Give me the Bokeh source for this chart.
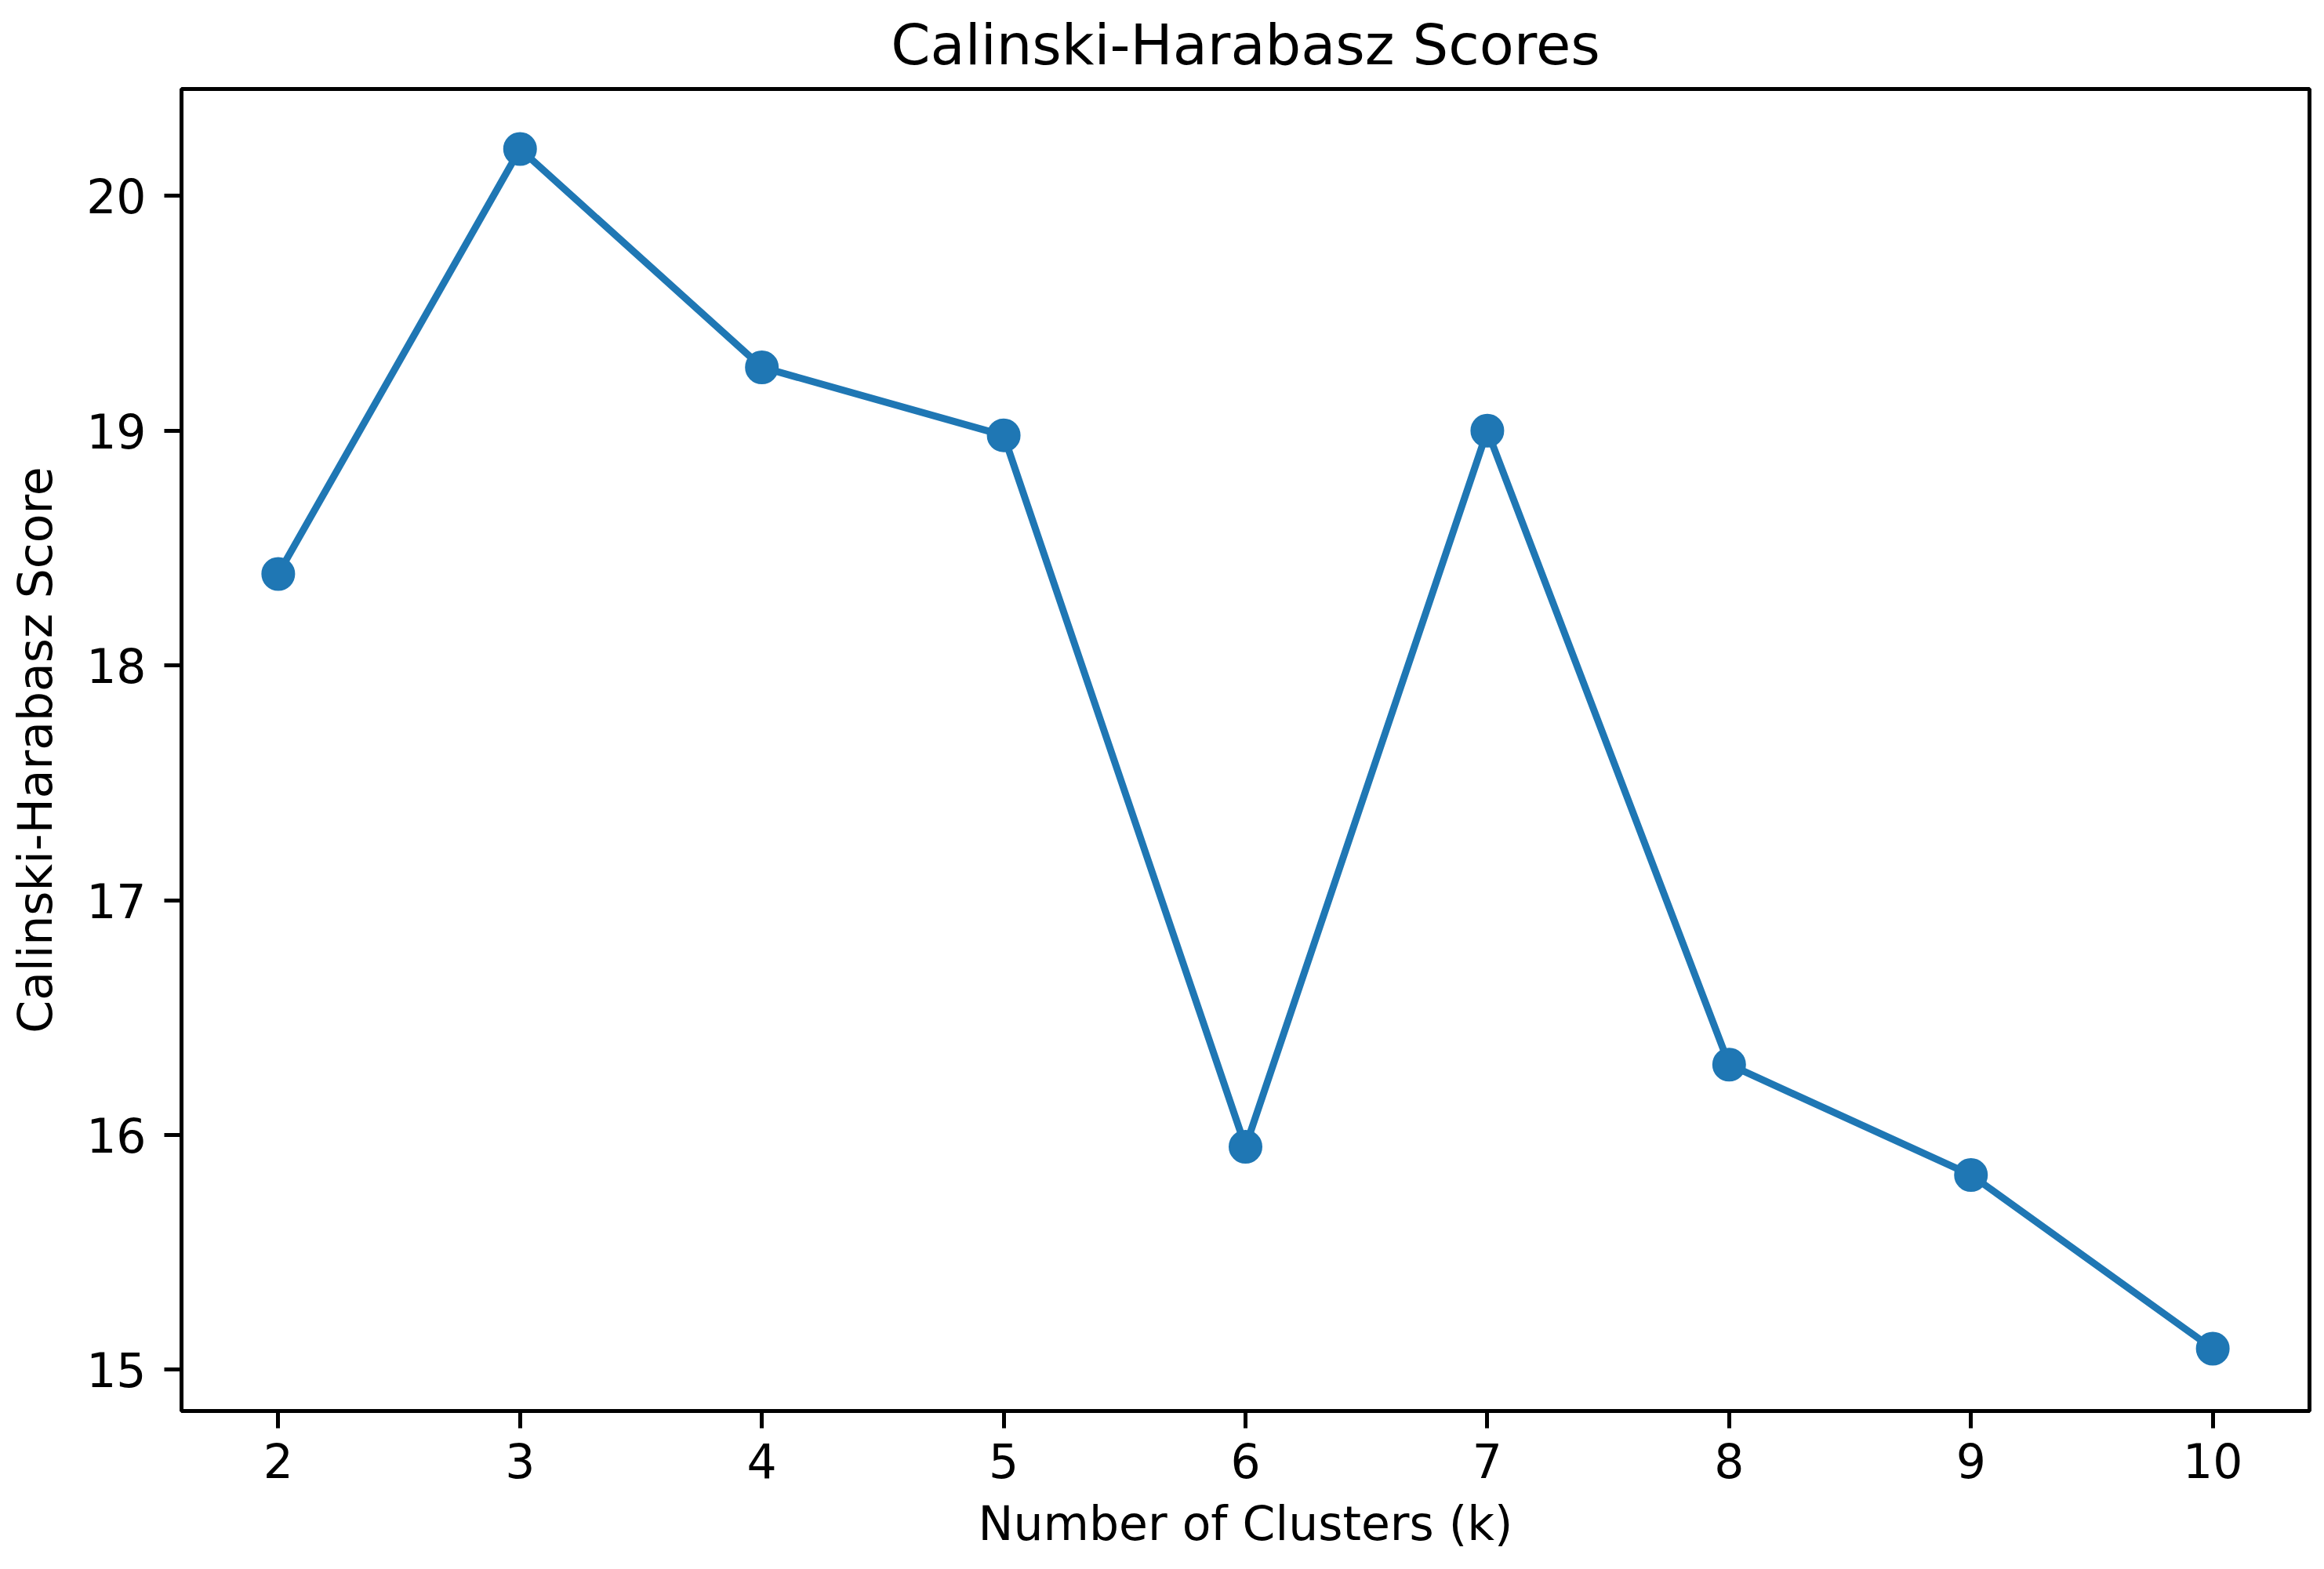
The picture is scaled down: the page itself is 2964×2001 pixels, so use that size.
from bokeh.plotting import figure
from bokeh.models import FixedTicker, ColumnDataSource
from bokeh.embed import file_html
from bokeh.resources import INLINE

k_values = [2, 3, 4, 5, 6, 7, 8, 9, 10]
ch_scores = [18.39, 20.20, 19.27, 18.98, 15.95, 19.00, 16.30, 15.83, 15.09]
x_ticks = [2, 3, 4, 5, 6, 7, 8, 9, 10]
y_ticks = [15, 16, 17, 18, 19, 20]

FONT = "DejaVu Sans"
COLOR = "#1f77b4"

src = ColumnDataSource(data=dict(k=k_values, score=ch_scores))

p = figure(width=2948, height=1985, x_range=(1.6, 10.4), y_range=(14.8245, 20.4555),
           output_backend="svg", toolbar_location=None,
           min_border_left=231, min_border_right=3, min_border_top=113, min_border_bottom=186,
           title="Calinski-Harabasz Scores")

p.line("k", "score", source=src, line_color=COLOR, line_width=9)
p.scatter("k", "score", source=src, size=41, fill_color=COLOR, line_color=COLOR, line_width=2)

p.grid.visible = False
p.background_fill_color = "white"
p.border_fill_color = "white"
p.outline_line_color = "black"
p.outline_line_width = 5

p.title.text_font = FONT
p.title.text_font_size = "72px"
p.title.text_font_style = "normal"
p.title.align = "center"
p.title.vertical_align = "top"
p.title.text_color = "black"
p.title.text_line_height = 1.0
p.title.standoff = 26

p.xaxis.ticker = FixedTicker(ticks=x_ticks)
p.yaxis.ticker = FixedTicker(ticks=y_ticks)
p.xaxis.axis_label = "Number of Clusters (k)"
p.yaxis.axis_label = "Calinski-Harabasz Score"

for ax in (p.xaxis[0], p.yaxis[0]):
    ax.axis_line_color = "black"
    ax.axis_line_width = 5
    ax.major_tick_line_color = "black"
    ax.major_tick_line_width = 5
    ax.major_tick_out = 22
    ax.major_tick_in = 0
    ax.minor_tick_out = 0
    ax.minor_tick_in = 0
    ax.major_label_text_font = FONT
    ax.major_label_text_font_size = "60px"
    ax.major_label_text_color = "black"
    ax.major_label_text_line_height = 1.0
    ax.axis_label_text_font = FONT
    ax.axis_label_text_font_size = "60px"
    ax.axis_label_text_font_style = "normal"
    ax.axis_label_text_color = "black"
    ax.axis_label_text_line_height = 1.0

p.xaxis[0].major_label_standoff = 18
p.yaxis[0].major_label_standoff = 23
p.xaxis[0].axis_label_standoff = 20
p.yaxis[0].axis_label_standoff = 27

open("out.html", "w").write(file_html(p, INLINE))
